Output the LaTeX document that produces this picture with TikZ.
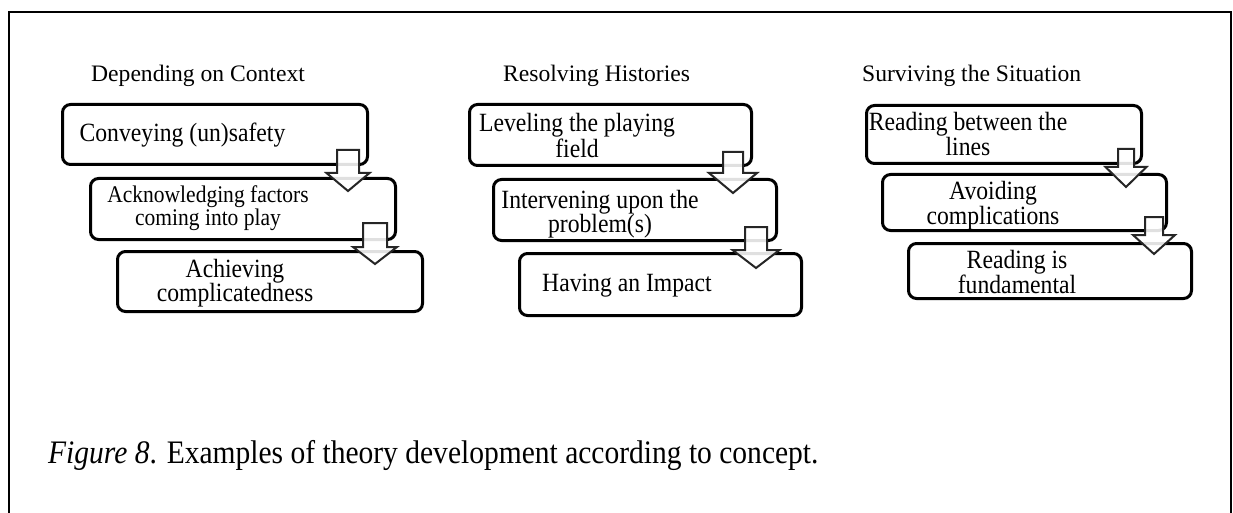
\documentclass[tikz,border=0pt]{standalone}
\usepackage{fontspec}
\setmainfont{Liberation Serif}
\newfontfamily\tallserif{Liberation Serif}[FakeStretch=0.9]
\newcommand\twolines[3]{\vtop{\baselineskip=#3pt\halign{\hfil##\hfil\cr #1\cr #2\cr}}}
\begin{document}
\begin{tikzpicture}[x=1pt,y=-1pt,
  stepbox/.style={draw=black, line width=3pt, rounded corners=8pt, fill=white, inner sep=0pt},
  arrowst/.style={draw=black!85, line width=2pt, fill=white, fill opacity=0.88, line join=miter},
  boxtext/.style={inner sep=0pt, font=\tallserif\fontsize{26.3}{22}\selectfont, anchor=base},
  smalltext/.style={inner sep=0pt, font=\tallserif\fontsize{23.9}{20}\selectfont, anchor=base},
  coltitle/.style={inner sep=0pt, font=\fontsize{23.6}{26}\selectfont, anchor=base west},
  pics/darr/.style n args={4}{code={
    \draw[arrowst] (-#1,0) -- (#1,0) -- (#1,#3) -- (#2,#3) -- (0,#3+#4) -- (-#2,#3) -- (-#1,#3) -- cycle;}}
]
\useasboundingbox (0,0) rectangle (1233,513);
\fill[white] (0,0) rectangle (1233,513);
% frame
\coordinate (fbl) at (9,514);
\coordinate (ftl) at (9,12);
\coordinate (ftr) at (1231,12);
\coordinate (fbr) at (1231,514);
\draw[line width=2.5pt] (fbl) -- (ftl) -- (ftr) -- (fbr);

% titles
\node[coltitle] (t1) at (91,82) {Depending on Context};
\node[coltitle] (t2) at (503,82) {Resolving Histories};
\node[coltitle] (t3) at (862,82) {Surviving the Situation};

% boxes column 1
\node[stepbox, minimum width=305pt, minimum height=60pt] (b11) at (215,134.5) {};
\node[stepbox, minimum width=305pt, minimum height=61pt] (b12) at (243,209) {};
\node[stepbox, minimum width=305pt, minimum height=60pt] (b13) at (270,281.5) {};
% boxes column 2
\node[stepbox, minimum width=282pt, minimum height=61pt] (b21) at (610.5,135) {};
\node[stepbox, minimum width=283pt, minimum height=61pt] (b22) at (635,210) {};
\node[stepbox, minimum width=282pt, minimum height=62pt] (b23) at (660.5,284.5) {};
% boxes column 3
\node[stepbox, minimum width=275pt, minimum height=58pt] (b31) at (1004,134.5) {};
\node[stepbox, minimum width=284pt, minimum height=56pt] (b32) at (1024.5,202.5) {};
\node[stepbox, minimum width=283pt, minimum height=55pt] (b33) at (1050,271) {};

% block arrows
\pic (a11) at (348,150) {darr={11}{21.5}{23}{18}};
\pic (a12) at (375,223) {darr={12}{22}{24}{17}};
\pic (a21) at (733,152) {darr={10}{24}{21}{20}};
\pic (a22) at (756,227) {darr={11}{23.5}{23}{18}};
\pic (a31) at (1126,149) {darr={8}{20.5}{18}{20}};
\pic (a32) at (1154,217) {darr={9}{21}{18}{19}};

% box texts
\node[boxtext] (x11) at (182.5,142) {Conveying (un)safety};
\node[smalltext] (x12) at (208,203) {\twolines{Acknowledging factors}{coming into play}{20.5}};
\node[boxtext] (x13) at (235,277) {\twolines{Achieving}{complicatedness}{23}};
\node[boxtext] (x21) at (577,132) {\twolines{Leveling the playing}{field}{21.5}};
\node[boxtext] (x22) at (600,208) {\twolines{Intervening upon the}{problem(s)}{22.5}};
\node[boxtext] (x23) at (627,291) {Having an Impact};
\node[boxtext] (x31) at (968,131) {\twolines{Reading between the}{lines}{23}};
\node[boxtext] (x32) at (993,200) {\twolines{Avoiding}{complications}{22}};
\node[boxtext] (x33) at (1017,268) {\twolines{Reading is}{fundamental}{22}};

% caption
\node[inner sep=0pt, anchor=base west, font=\tallserif\fontsize{32.8}{34}\selectfont] (cap) at (48,463)
  {\textit{Figure 8}. Examples of theory development according to concept.};
\end{tikzpicture}
\end{document}
